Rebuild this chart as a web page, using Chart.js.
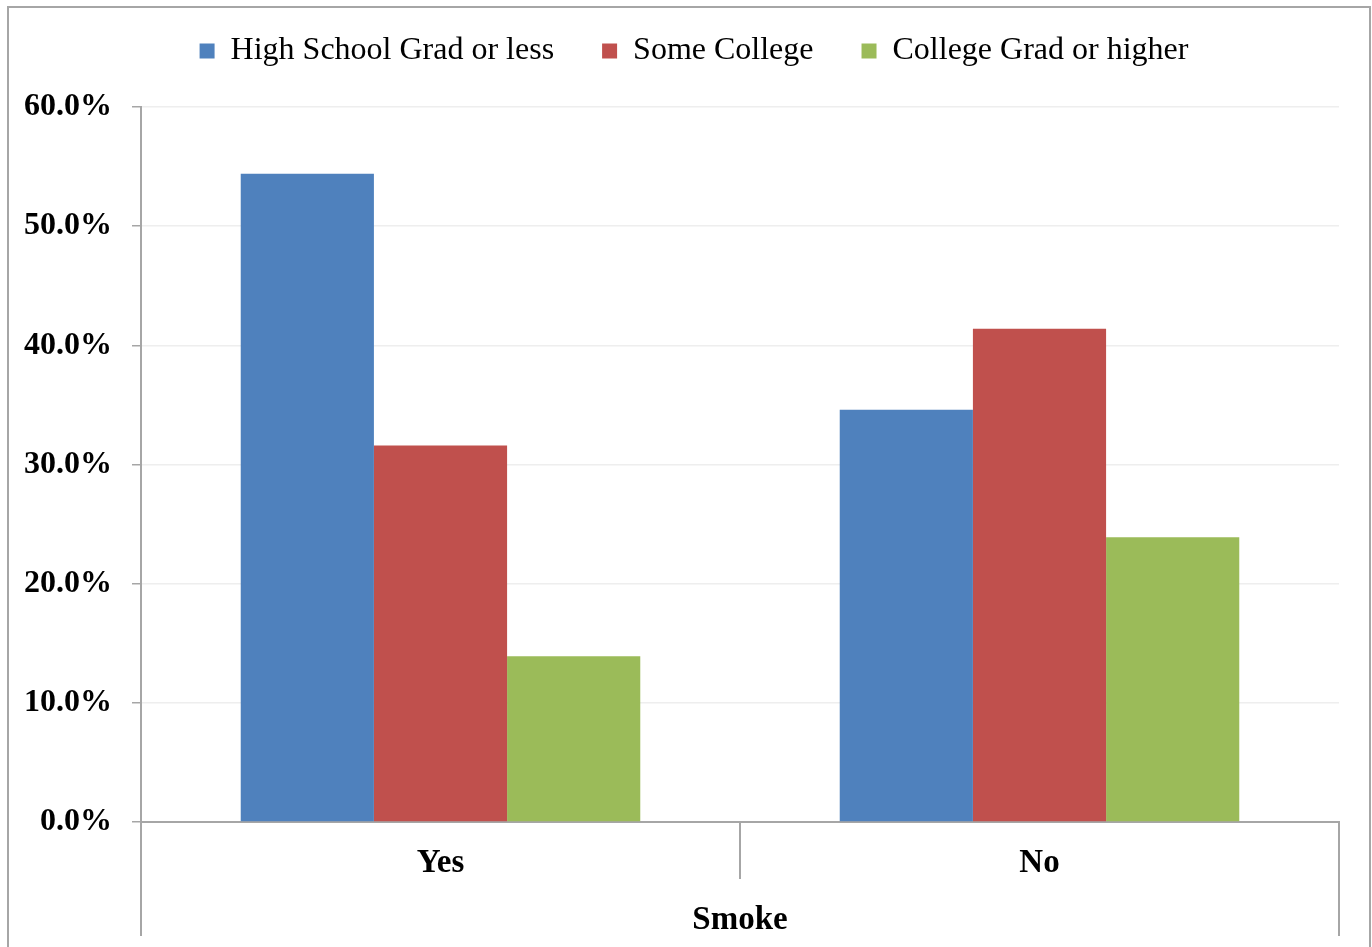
<!DOCTYPE html>
<html>
<head>
<meta charset="utf-8">
<script src="https://cdn.jsdelivr.net/npm/chart.js@4.4.0/dist/chart.umd.min.js"></script>
<style>
  html, body { margin: 0; padding: 0; background: #fff; overflow: hidden; }
  .frame { position: absolute; left: 7px; top: 6px; width: 1364px; height: 960px; border: 2px solid #a6a6a6; box-sizing: border-box; }
  .frame canvas { position: absolute; left: 0; top: 0; }
</style>
</head>
<body>
<div class="frame">
  <canvas id="chart" width="1360" height="938"></canvas>
</div>
<script>
const categories = ['Yes', 'No'];
const seriesNames = ['High School Grad or less', 'Some College', 'College Grad or higher'];
const highSchool = [54.4, 34.6];
const someCollege = [31.6, 41.4];
const collegeGrad = [13.9, 23.9];
const seriesColors = ['#4F81BD', '#C0504D', '#9BBB59'];
const axisTitle = 'Smoke';

const serif = '"Liberation Serif", "Times New Roman", serif';
const lineGray = '#a6a6a6';

// separator lines under the category axis, like a grouped Excel axis
const categoryDividers = {
  id: 'categoryDividers',
  afterDraw(chart) {
    const { ctx, chartArea, scales } = chart;
    const x = scales.x;
    const bottom = chartArea.bottom;
    const mid = (x.getPixelForTick(0) + x.getPixelForTick(1)) / 2;
    ctx.save();
    ctx.strokeStyle = lineGray;
    ctx.lineWidth = 2;
    ctx.beginPath();
    ctx.moveTo(x.left, bottom); ctx.lineTo(x.left, bottom + 114);
    ctx.moveTo(mid, bottom); ctx.lineTo(mid, bottom + 57);
    ctx.moveTo(x.right, bottom); ctx.lineTo(x.right, bottom + 114);
    ctx.stroke();
    ctx.restore();
  }
};

// extra room under the legend, and centre it on the whole frame
const legendSpacing = {
  id: 'legendSpacing',
  afterInit(chart) {
    const legend = chart.legend;
    const fit = legend.fit;
    legend.fit = function () {
      fit.call(this);
      this.height += 30;
    };
  },
  afterLayout(chart) {
    chart.legend.left += 20;
    chart.legend.right += 20;
  }
};

const data = [highSchool, someCollege, collegeGrad];

new Chart(document.getElementById('chart'), {
  type: 'bar',
  data: {
    labels: categories,
    datasets: seriesNames.map((name, i) => ({
      label: name,
      data: data[i],
      backgroundColor: seriesColors[i],
      borderWidth: 0,
      categoryPercentage: 0.667,
      barPercentage: 1.0,
    })),
  },
  options: {
    responsive: false,
    animation: false,
    layout: { padding: { left: 0, right: 30, top: -21, bottom: 6 } },
    plugins: {
      legend: {
        position: 'top',
        labels: {
          font: { family: serif, size: 32 },
          color: '#000',
          boxWidth: 15,
          boxHeight: 15,
          padding: 48,
        },
      },
      tooltip: { enabled: false },
    },
    scales: {
      x: {
        afterFit: (s) => { s.height = 118; },
        grid: { display: false, drawTicks: false },
        border: { color: lineGray, width: 2 },
        ticks: {
          color: '#000',
          font: { family: serif, size: 33, weight: 'bold' },
          padding: 22,
        },
        title: {
          display: true,
          text: axisTitle,
          color: '#000',
          font: { family: serif, size: 33, weight: 'bold' },
          padding: 0,
        },
      },
      y: {
        min: 0,
        max: 60,
        afterFit: (s) => { s.width = 132; },
        grid: { color: '#eeeeee', lineWidth: 1.5, tickColor: lineGray, tickLength: 9 },
        border: { color: lineGray, width: 2 },
        ticks: {
          stepSize: 10,
          color: '#000',
          font: { family: serif, size: 32, weight: 'bold' },
          padding: 20,
          callback: (v) => v.toFixed(1) + '%',
        },
      },
    },
  },
  plugins: [categoryDividers, legendSpacing],
});
</script>
</body>
</html>
